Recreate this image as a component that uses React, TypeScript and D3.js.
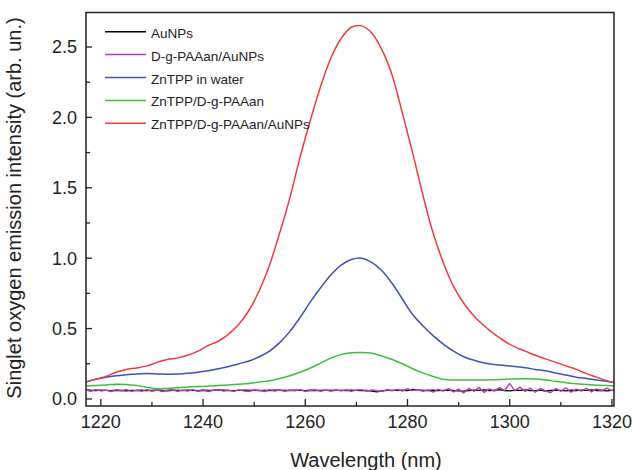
import React from "react";
import * as d3 from "d3";

// Smooth spectra sampled every 2 nm
const wlSmooth: number[] = [
  1217, 1219, 1221, 1223, 1225, 1227, 1229, 1231, 1233, 1235, 1237, 1239, 1241, 1243, 1245, 1247, 1249, 1251,
  1253, 1255, 1257, 1259, 1261, 1263, 1265, 1267, 1269, 1271, 1273, 1275, 1277, 1279, 1281, 1283, 1285, 1287,
  1289, 1291, 1293, 1295, 1297, 1299, 1301, 1303, 1305, 1307, 1309, 1311, 1313, 1315, 1317, 1319, 1321,
];

const redVals: number[] = [
  0.12, 0.14, 0.16, 0.19, 0.21, 0.22, 0.235, 0.26, 0.28, 0.29, 0.31, 0.34, 0.38, 0.41, 0.46, 0.53, 0.63, 0.77,
  0.95, 1.18, 1.43, 1.72, 1.98, 2.22, 2.42, 2.56, 2.64, 2.65, 2.6, 2.48, 2.3, 2.03, 1.75, 1.45, 1.18, 0.97,
  0.8, 0.68, 0.59, 0.52, 0.46, 0.41, 0.37, 0.34, 0.31, 0.285, 0.26, 0.235, 0.21, 0.18, 0.155, 0.13, 0.11,
];

const blueVals: number[] = [
  0.12, 0.14, 0.155, 0.165, 0.172, 0.178, 0.18, 0.178, 0.176, 0.177, 0.182, 0.19, 0.2, 0.215, 0.23, 0.25, 0.27, 0.3,
  0.34, 0.4, 0.48, 0.58, 0.69, 0.79, 0.88, 0.95, 0.99, 1.0, 0.97, 0.91, 0.82, 0.71, 0.6, 0.52, 0.45, 0.39,
  0.34, 0.3, 0.275, 0.255, 0.245, 0.237, 0.23, 0.222, 0.21, 0.2, 0.185, 0.17, 0.155, 0.145, 0.135, 0.125, 0.115,
];

const greenVals: number[] = [
  0.09, 0.095, 0.1, 0.105, 0.103, 0.095, 0.082, 0.072, 0.075, 0.08, 0.085, 0.088, 0.09, 0.095, 0.1, 0.105, 0.11, 0.12,
  0.13, 0.145, 0.165, 0.19, 0.22, 0.255, 0.29, 0.315, 0.328, 0.33, 0.325, 0.305, 0.28, 0.25, 0.215, 0.185, 0.16, 0.14,
  0.135, 0.134, 0.134, 0.135, 0.137, 0.14, 0.142, 0.143, 0.142, 0.135, 0.125, 0.115, 0.108, 0.102, 0.098, 0.095, 0.092,
];

// Noisy baselines sampled every 1 nm, 1217..1321
const wlStart = 1217;
const blackVals: number[] = [
  0.065, 0.062, 0.06, 0.063, 0.061, 0.059, 0.062, 0.06, 0.058, 0.061,
  0.06, 0.062, 0.059, 0.061, 0.063, 0.06, 0.058, 0.062, 0.061, 0.06,
  0.063, 0.061, 0.059, 0.062, 0.06, 0.061, 0.064, 0.062, 0.06, 0.059,
  0.061, 0.063, 0.06, 0.062, 0.059, 0.061, 0.06, 0.062, 0.063, 0.061,
  0.06, 0.062, 0.061, 0.059, 0.062, 0.06, 0.061, 0.063, 0.06, 0.062,
  0.061, 0.06, 0.062, 0.061, 0.059, 0.06, 0.055, 0.05, 0.058, 0.062,
  0.061, 0.063, 0.062, 0.06, 0.068, 0.064, 0.061, 0.06, 0.062, 0.059,
  0.061, 0.063, 0.06, 0.058, 0.056, 0.06, 0.063, 0.061, 0.065, 0.06,
  0.062, 0.066, 0.06, 0.058, 0.062, 0.061, 0.064, 0.06, 0.059, 0.062,
  0.056, 0.06, 0.062, 0.061, 0.058, 0.062, 0.06, 0.063, 0.061, 0.064,
  0.06, 0.062, 0.058, 0.061, 0.066,
];
const purpleVals: number[] = [
  0.064, 0.055, 0.066, 0.057, 0.063, 0.053, 0.065, 0.057, 0.068, 0.054,
  0.063, 0.056, 0.066, 0.055, 0.064, 0.053, 0.062, 0.065, 0.054, 0.063,
  0.056, 0.066, 0.055, 0.064, 0.053, 0.062, 0.067, 0.056, 0.063, 0.054,
  0.065, 0.057, 0.055, 0.064, 0.062, 0.053, 0.066, 0.056, 0.063, 0.055,
  0.064, 0.057, 0.066, 0.054, 0.062, 0.065, 0.055, 0.063, 0.056, 0.064,
  0.057, 0.065, 0.055, 0.063, 0.066, 0.056, 0.064, 0.058, 0.054, 0.065,
  0.058, 0.068, 0.056, 0.074, 0.059, 0.066, 0.055, 0.064, 0.048, 0.068,
  0.056, 0.074, 0.05, 0.07, 0.043, 0.076, 0.054, 0.082, 0.046, 0.072,
  0.056, 0.08, 0.06, 0.11, 0.058, 0.084, 0.053, 0.078, 0.048, 0.076,
  0.058, 0.044, 0.074, 0.054, 0.08, 0.048, 0.07, 0.056, 0.076, 0.05,
  0.072, 0.058, 0.077, 0.06, 0.07,
];

const seriesNames: string[] = [
  "AuNPs",
  "D-g-PAAan/AuNPs",
  "ZnTPP in water",
  "ZnTPP/D-g-PAAan",
  "ZnTPP/D-g-PAAan/AuNPs",
];
const seriesColors: string[] = ["#000000", "#b43cb4", "#3c50c0", "#3cc03c", "#f03c3c"];

const xMajorTicks: number[] = [1220, 1240, 1260, 1280, 1300, 1320];
const xMinorTicks: number[] = [1230, 1250, 1270, 1290, 1310];
const yMajorTicks: number[] = [0, 0.5, 1.0, 1.5, 2.0, 2.5];
const yMinorTicks: number[] = [0.25, 0.75, 1.25, 1.75, 2.25];

const xTitle = "Wavelength (nm)";
const yTitle = "Singlet oxygen emission intensity (arb. un.)";

export default function App() {
  const W = 635, H = 470;
  const left = 86, right = 614, top = 12.5, bottom = 406;
  const x = d3.scaleLinear().domain([1217.1, 1320.4]).range([left, right]);
  const y = d3.scaleLinear().domain([-0.05, 2.745]).range([bottom, top]);
  const font = "'Liberation Sans', Arial, sans-serif";

  const smooth = d3
    .line<[number, number]>()
    .x((d) => x(d[0]))
    .y((d) => y(d[1]))
    .curve(d3.curveCatmullRom.alpha(0.5));
  const linear = d3
    .line<[number, number]>()
    .x((d) => x(d[0]))
    .y((d) => y(d[1]));

  const noisy = (vals: number[]) => vals.map((v, i) => [wlStart + i, v] as [number, number]);
  const sm = (vals: number[]) => vals.map((v, i) => [wlSmooth[i], v] as [number, number]);

  const paths = [
    { d: linear(noisy(blackVals)), c: seriesColors[0], w: 1.3 },
    { d: linear(noisy(purpleVals)), c: seriesColors[1], w: 1.4 },
    { d: smooth(sm(greenVals)), c: seriesColors[3], w: 1.5 },
    { d: smooth(sm(blueVals)), c: seriesColors[2], w: 1.5 },
    { d: smooth(sm(redVals)), c: seriesColors[4], w: 1.5 },
  ];
  const fmt = d3.format(".1f");

  return (
    <svg width={W} height={H} style={{ position: "absolute", left: 0, top: 0, background: "#fff" }}>
      <defs>
        <clipPath id="plotclip">
          <rect x={left} y={top} width={right - left} height={bottom - top} />
        </clipPath>
      </defs>
      <g clipPath="url(#plotclip)">
        {paths.map((p, i) => (
          <path key={i} d={p.d || ""} fill="none" stroke={p.c} strokeWidth={p.w} strokeLinejoin="round" />
        ))}
      </g>
      {/* frame */}
      <rect x={left} y={top} width={right - left} height={bottom - top} fill="none" stroke="#222" strokeWidth={1.5} />
      {/* x ticks */}
      {xMajorTicks.map((t) => (
        <g key={"xm" + t}>
          <line x1={x(t)} x2={x(t)} y1={bottom} y2={bottom - 7} stroke="#222" strokeWidth={1.3} />
          <text x={x(t)} y={428} fontFamily={font} fontSize={18} textAnchor="middle" fill="#222">
            {t}
          </text>
        </g>
      ))}
      {xMinorTicks.map((t) => (
        <line key={"xn" + t} x1={x(t)} x2={x(t)} y1={bottom} y2={bottom - 4} stroke="#222" strokeWidth={1.3} />
      ))}
      {/* y ticks */}
      {yMajorTicks.map((t) => (
        <g key={"ym" + t}>
          <line x1={left} x2={left + 6} y1={y(t)} y2={y(t)} stroke="#222" strokeWidth={1.3} />
          <text x={77} y={y(t) + 6.5} fontFamily={font} fontSize={18} textAnchor="end" fill="#222">
            {fmt(t)}
          </text>
        </g>
      ))}
      {yMinorTicks.map((t) => (
        <line key={"yn" + t} x1={left} x2={left + 4} y1={y(t)} y2={y(t)} stroke="#222" strokeWidth={1.3} />
      ))}
      {/* titles */}
      <text x={366} y={467} fontFamily={font} fontSize={20} textAnchor="middle" fill="#222">
        {xTitle}
      </text>
      <text
        transform={`translate(21,208) rotate(-90)`}
        fontFamily={font}
        fontSize={20}
        textAnchor="middle"
        fill="#222"
      >
        {yTitle}
      </text>
      {/* legend */}
      {seriesNames.map((n, i) => {
        const ly = 31.7 + 22.9 * i;
        return (
          <g key={n}>
            <line x1={105} x2={146} y1={ly} y2={ly} stroke={seriesColors[i]} strokeWidth={1.5} />
            <text x={151} y={ly + 6} fontFamily={font} fontSize={13.5} fill="#222">
              {n}
            </text>
          </g>
        );
      })}
    </svg>
  );
}
